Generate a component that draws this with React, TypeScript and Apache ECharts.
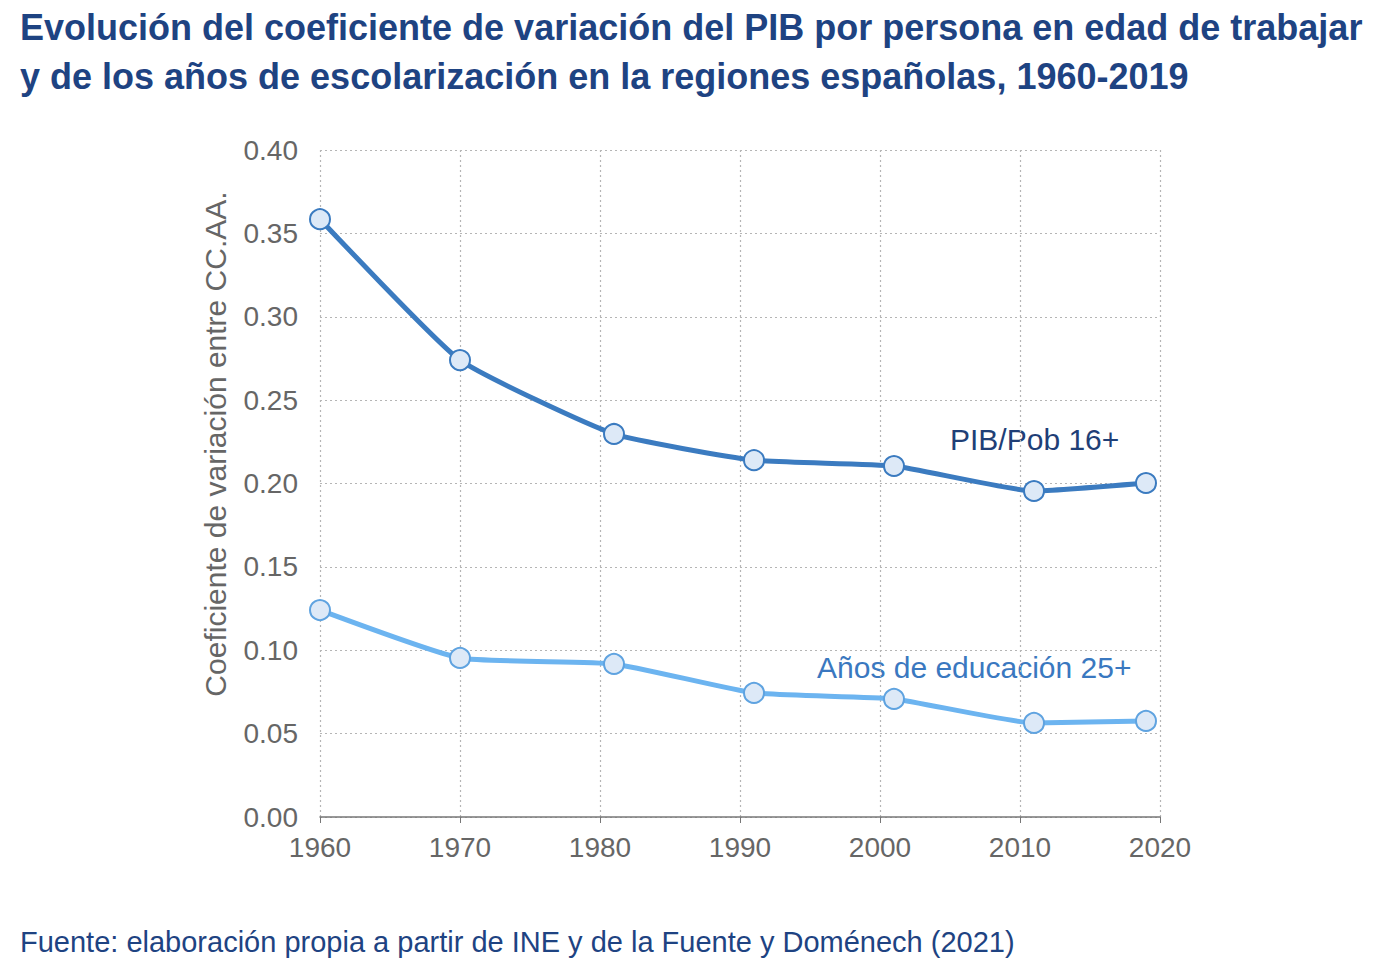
import React, { useEffect, useRef } from "react";
import * as echarts from "echarts";

const years = [1960, 1970, 1981, 1991, 2001, 2011, 2019];
const pibValues = [0.3585, 0.274, 0.2297, 0.214, 0.2105, 0.1955, 0.2003];
const eduValues = [0.1241, 0.0954, 0.0918, 0.0744, 0.0708, 0.0564, 0.0576];
const xTicks = [1960, 1970, 1980, 1990, 2000, 2010, 2020];

const titleText =
  "Evolución del coeficiente de variación del PIB por persona en edad de trabajar\ny de los años de escolarización en la regiones españolas, 1960-2019";
const sourceText = "Fuente: elaboración propia a partir de INE y de la Fuente y Doménech (2021)";
const yAxisName = "Coeficiente de variación entre CC.AA.";
const pibLabel = "PIB/Pob 16+";
const eduLabel = "Años de educación 25+";

const FONT = "Arial";

export default function App() {
  const ref = useRef<HTMLDivElement>(null);

  useEffect(() => {
    if (!ref.current) return;
    const chart = echarts.init(ref.current, undefined, { renderer: "svg" });
    const pairs = (vals: number[]) => years.map((y, i) => [y, vals[i]]);

    chart.setOption({
      animation: false,
      backgroundColor: "#ffffff",
      textStyle: { fontFamily: FONT },
      grid: { left: 320, right: 240, top: 150, bottom: 151 },
      title: {
        text: titleText,
        left: 20,
        top: 3,
        padding: 0,
        textStyle: {
          fontFamily: FONT,
          fontSize: 36,
          fontWeight: "bold",
          color: "#1e4382",
          lineHeight: 49,
        },
      },
      xAxis: {
        type: "value",
        min: 1960,
        max: 2020,
        interval: 10,
        axisLine: { show: true, lineStyle: { color: "#777777", width: 1.5 } },
        axisTick: { show: true, length: 6, lineStyle: { color: "#777777" } },
        axisLabel: {
          color: "#666666",
          fontFamily: FONT,
          fontSize: 28,
          margin: 16,
          formatter: (v: number) => (xTicks.includes(v) ? String(v) : ""),
        },
        splitLine: {
          show: true,
          lineStyle: { color: "#b5b5b5", type: [2, 3], width: 1.2 },
        },
      },
      yAxis: {
        type: "value",
        min: 0,
        max: 0.4,
        interval: 0.05,
        axisLine: { show: false },
        axisTick: { show: false },
        axisLabel: {
          color: "#666666",
          fontFamily: FONT,
          fontSize: 28,
          margin: 22,
          formatter: (v: number) => v.toFixed(2),
        },
        splitLine: {
          show: true,
          lineStyle: { color: "#b5b5b5", type: [2, 3], width: 1.2 },
        },
      },
      series: [
        {
          name: pibLabel,
          type: "line",
          data: pairs(pibValues),
          smooth: 0.15,
          symbol: "circle",
          symbolSize: 20,
          lineStyle: { color: "#3b7bc0", width: 5 },
          itemStyle: { color: "#dde9f7", borderColor: "#3b7bc0", borderWidth: 2 },
          z: 3,
        },
        {
          name: eduLabel,
          type: "line",
          data: pairs(eduValues),
          smooth: 0.15,
          symbol: "circle",
          symbolSize: 20,
          lineStyle: { color: "#6cb4f0", width: 5 },
          itemStyle: { color: "#dde9f7", borderColor: "#5fa3e0", borderWidth: 2 },
          z: 3,
        },
      ],
      graphic: [
        {
          // vertical axis title, set slightly above the plot's midline
          type: "text",
          x: 215,
          y: 444,
          rotation: Math.PI / 2,
          style: {
            text: yAxisName,
            font: `30px ${FONT}`,
            fill: "#666666",
            align: "center",
            verticalAlign: "middle",
          },
        },
        {
          type: "text",
          left: 950,
          top: 424,
          style: {
            text: pibLabel,
            font: `30px ${FONT}`,
            fill: "#1f3f77",
          },
        },
        {
          type: "text",
          left: 817,
          top: 652,
          style: {
            text: eduLabel,
            font: `30px ${FONT}`,
            fill: "#3a78c0",
          },
        },
        {
          type: "text",
          left: 20,
          top: 927,
          style: {
            text: sourceText,
            font: `29px ${FONT}`,
            fill: "#1e4382",
          },
        },
      ],
    });

    return () => chart.dispose();
  }, []);

  return <div ref={ref} style={{ width: 1400, height: 968, position: "absolute", left: 0, top: 0 }} />;
}
